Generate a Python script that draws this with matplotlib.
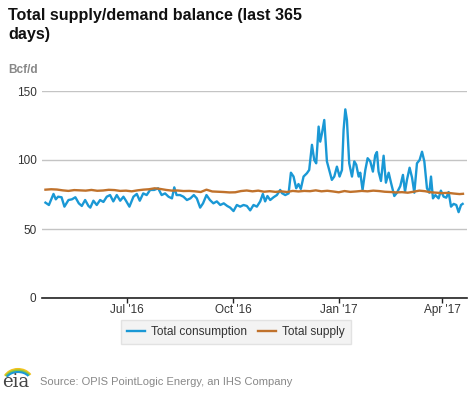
import numpy as np
import pandas as pd
import matplotlib
matplotlib.use("Agg")
import matplotlib.pyplot as plt
import matplotlib.dates as mdates
from matplotlib.patches import Arc, Rectangle

plt.rcParams['font.family'] = ['Liberation Sans', 'DejaVu Sans']

# ---- data (days since 2016-04-21, Bcf/d) ----
start_date = "2016-04-21"
cons_days = [0, 3, 7, 9, 11, 14, 16.5, 20, 23, 26, 29, 31.6, 34.5, 37.4, 39, 41.7, 44.6, 47.5,
             50.4, 53.3, 56.2, 59, 62, 65, 67.8, 70, 73, 76.5, 79.4, 82, 85, 88, 91, 94.5, 98,
             101, 104, 107, 110, 112, 114, 117, 120, 123, 126, 129, 131.6, 134.5, 137, 140,
             143, 146, 149, 152, 155, 158, 160.6, 163.5, 166.4, 169.3, 172.2, 175.1, 178,
             180.9, 183.8, 186.7, 189, 191, 193, 195.4, 198.3, 201.2, 204.1, 205.6, 208.5,
             211.4, 213.4, 215.7, 218, 220, 222, 224.4, 227.3, 229.3, 231.7, 233.7, 235.4,
             237.5, 238.9, 240.4, 242.4, 244.7, 246.7, 249, 251.1, 253.4, 255.7, 257.8, 259.2,
             260.7, 262.1, 264.1, 266.5, 268.5, 270.2, 272.3, 273.7, 275.7, 278.1, 280.1,
             282.4, 284.7, 286.7, 288.2, 289.6, 291.7, 294, 296, 298.4, 300.4, 303.3, 305.6,
             308.5, 310.8, 312.6, 314.3, 316.6, 318.7, 320.7, 323, 325.3, 327.4, 329.4, 331.7,
             333.7, 335.2, 336.9, 339, 341.8, 343.8, 346.2, 348.5, 350.5, 352.6, 354.9, 357.2,
             359.2, 361.3, 362.7]
consumption = [69.1, 67.4, 75.4, 71.5, 73.4, 73.0, 66.2, 71.0, 71.5, 73.0, 68.6, 66.7, 71.0,
               66.7, 65.5, 70.5, 67.4, 71.0, 69.6, 73.4, 74.6, 70.0, 74.6, 70.5, 73.4, 70.5,
               66.2, 73.4, 75.4, 70.5, 75.8, 74.6, 78.3, 78.3, 79.5, 74.6, 75.8, 73.4, 72.2,
               80.2, 74.6, 74.6, 73.4, 71.0, 72.2, 74.6, 72.2, 65.5, 68.6, 74.6, 71.0, 68.6,
               70.0, 67.4, 68.6, 66.7, 65.5, 63.0, 67.4, 66.2, 67.4, 66.7, 63.5, 67.4, 66.2,
               70.0, 75.4, 70.0, 73.9, 71.0, 73.0, 74.6, 78.3, 76.0, 74.6, 75.8, 90.8, 88.0,
               79.5, 82.6, 79.0, 88.0, 90.4, 92.8, 111.0, 100.0, 97.6, 124.2, 113.3, 119.3,
               129.0, 99.0, 92.8, 85.6, 88.0, 95.2, 88.0, 92.8, 121.7, 136.7, 129.0, 97.6,
               88.0, 99.0, 96.6, 88.0, 90.8, 78.3, 92.8, 101.3, 99.0, 91.6, 103.4, 105.8,
               91.6, 84.8, 103.1, 83.6, 90.8, 83.6, 73.9, 76.3, 81.1, 89.2, 77.1, 85.6, 94.4,
               87.3, 76.3, 97.6, 100.0, 106.0, 99.0, 79.5, 76.3, 88.0, 72.2, 74.6, 72.2, 77.8,
               73.4, 72.7, 76.8, 66.2, 68.2, 67.4, 62.2, 67.4, 68.2]

supply_days = list(range(0, 361, 5)) + [363]
supply = [78.5, 78.8, 78.6, 78.0, 77.6, 78.2, 78.0, 77.8, 78.3, 77.7, 77.9, 78.4, 78.2, 77.6,
          77.8, 77.3, 78.0, 78.5, 78.8, 79.5, 79.0, 78.3, 77.8, 77.9, 77.5, 77.6, 77.3, 76.8,
          78.5, 77.2, 77.0, 76.8, 76.5, 76.6, 77.5, 77.9, 77.3, 77.8, 77.0, 77.4, 76.9, 77.3,
          76.8, 77.6, 77.2, 77.6, 77.4, 78.0, 77.3, 77.7, 77.2, 76.6, 77.5, 76.9, 77.2, 77.6,
          77.3, 77.8, 77.5, 77.0, 76.8, 76.5, 76.7, 76.3, 77.0, 77.8, 77.4, 76.6, 76.3, 76.0,
          76.2, 75.7, 75.3, 75.5]

tick_dates = ["2016-07-01", "2016-10-01", "2017-01-01", "2017-04-01"]
tick_labels = ["Jul '16", "Oct '16", "Jan '17", "Apr '17"]
y_ticks = [0, 50, 100, 150]

title = "Total supply/demand balance (last 365\ndays)"
unit = "Bcf/d"
source = "Source: OPIS PointLogic Energy, an IHS Company"

blue = "#1a98d5"
brown = "#c0722c"

t0 = pd.Timestamp(start_date)
cons_x = [t0 + pd.Timedelta(days=d) for d in cons_days]
sup_x = [t0 + pd.Timedelta(days=d) for d in supply_days]

W, H = 477, 393
fig = plt.figure(figsize=(W / 100, H / 100), dpi=100)
ax = fig.add_axes([42 / W, 1 - 298 / H, (467 - 42) / W, (298 - 91) / H])

ax.plot(cons_x, consumption, color=blue, lw=1.7, zorder=3, label="Total consumption")
ax.plot(sup_x, supply, color=brown, lw=1.7, zorder=4, label="Total supply")

ax.set_ylim(0, 150)
ax.set_xlim(t0 - pd.Timedelta(days=3), t0 + pd.Timedelta(days=366.5))
ax.set_yticks(y_ticks)
ax.set_xticks([pd.Timestamp(d) for d in tick_dates])
ax.set_xticklabels(tick_labels)
ax.yaxis.grid(True, color="#c4c4c4", lw=1)
ax.set_axisbelow(True)
for s in ["top", "right", "left"]:
    ax.spines[s].set_visible(False)
ax.spines["bottom"].set_color("#222222")
ax.spines["bottom"].set_linewidth(1.2)
ax.tick_params(axis="y", length=0, pad=4, labelsize=8.5, labelcolor="#333333")
ax.tick_params(axis="x", length=3.5, width=1, color="#222222", pad=1, labelsize=8.5,
               labelcolor="#333333")

fig.text(8 / W, 1 - 8 / H, title, fontsize=11.6, fontweight="bold", color="#111111",
         va="top", ha="left", linespacing=1.3)
fig.text(8 / W, 1 - 70 / H, unit, fontsize=8.5, fontweight="bold", color="#888888",
         va="center", ha="left")

leg = fig.legend(loc="center", bbox_to_anchor=(236 / W, 1 - 332 / H), ncol=2,
                 fontsize=8.6, frameon=True, fancybox=False, handlelength=1.5,
                 handletextpad=0.5, columnspacing=0.9, borderpad=0.5)
leg.get_frame().set_facecolor("#f0f0f0")
leg.get_frame().set_edgecolor("#dddddd")
for t in leg.get_texts():
    t.set_color("#333333")

# eia logo
fig.text(2 / W, 1 - 382 / H, "eia", fontsize=13, family="DejaVu Serif", color="#444444",
         va="center", ha="left")
for i, c in enumerate(["#f2c21b", "#8cc63f", "#1a98d5"]):
    arc = Arc((18 / W, (H - 382) / H), (30 - i * 2) / W, (26 - i * 3) / H,
              theta1=35, theta2=150, color=c, lw=1.5, transform=fig.transFigure)
    fig.add_artist(arc)
fig.text(40 / W, 1 - 382 / H, source, fontsize=8, color="#888888", va="center", ha="left")

fig.savefig("out.png", dpi=100)
